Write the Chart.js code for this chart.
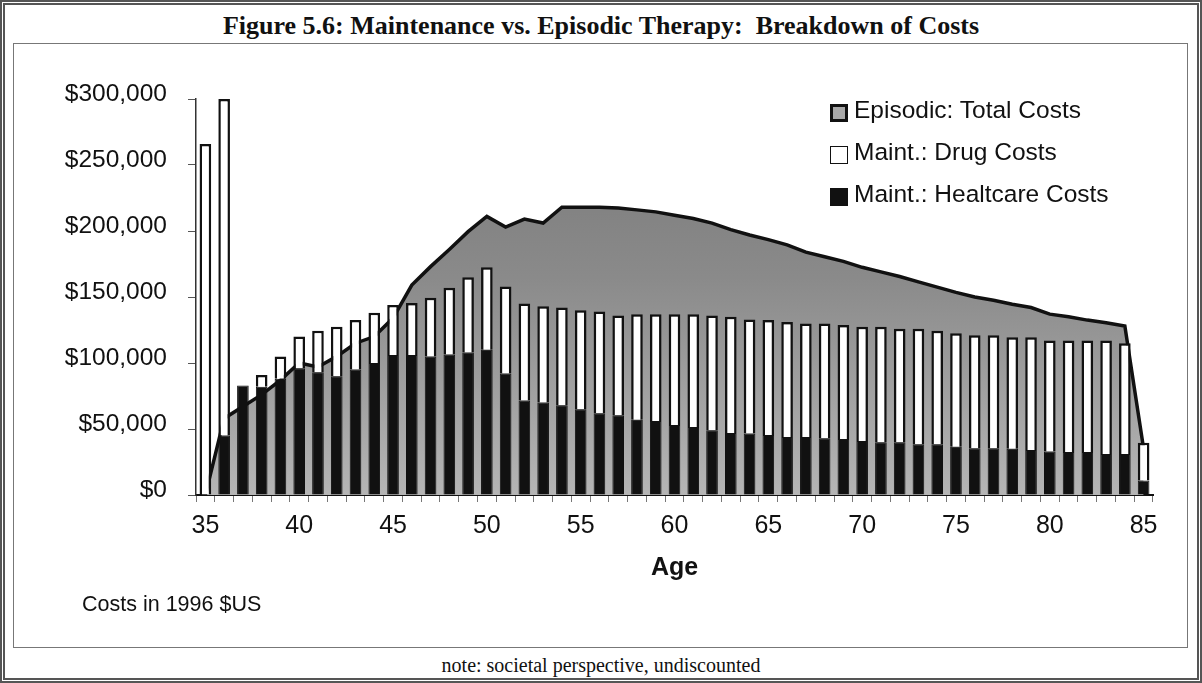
<!DOCTYPE html>
<html>
<head>
<meta charset="utf-8">
<title>Figure 5.6</title>
<script src="https://cdn.jsdelivr.net/npm/chart.js@4.4.0/dist/chart.umd.min.js"></script>
<style>
  html, body { margin: 0; padding: 0; background: #fff; }
  #page { position: relative; width: 1202px; height: 683px; overflow: hidden; background: #fff; }
  #outer { position: absolute; left: 0; top: 0; width: 1202px; height: 683px; box-sizing: border-box; border: 5px double #555; }
  #inner { position: absolute; left: 13px; top: 43px; width: 1175px; height: 605px; box-sizing: border-box; border: 1px solid #777; }
  #title { position: absolute; left: 0; width: 1202px; top: 11px; line-height: 32px; text-align: center;
           font: bold 26px 'Liberation Serif', 'Times New Roman', serif; color: #111; }
  #note { position: absolute; left: 0; width: 1202px; top: 654px; line-height: 26px; text-align: center;
          font: 20px 'Liberation Serif', 'Times New Roman', serif; color: #111; }
  #units { position: absolute; left: 82px; top: 592px; line-height: 26px;
           font: 21.5px 'Liberation Sans', Arial, sans-serif; color: #111; }
  #chartBox { position: absolute; left: 13px; top: 43px; }
  #legend { position: absolute; left: 830px; top: 89px; font: 24.5px 'Liberation Sans', Arial, sans-serif; color: #111; }
  .legend-row { height: 42px; display: flex; align-items: center; }
  .legend-box { width: 18px; height: 18px; box-sizing: border-box; margin-right: 6px; margin-top: 6px; }
  .box-episodic { background: #a8a8a8; border: 3.5px solid #111; }
  .box-drug { background: #fff; border: 1.5px solid #111; }
  .box-health { background: #111; border: 1px solid #111; }
</style>
</head>
<body>
<div id="page">
  <div id="outer"></div>
  <div id="inner"></div>
  <div id="title">Figure 5.6: Maintenance vs. Episodic Therapy:&nbsp; Breakdown of Costs</div>
  <div id="chartBox"><canvas id="costChart" width="1177" height="605"></canvas></div>
  <div id="legend"></div>
  <div id="units">Costs in 1996 $US</div>
  <div id="note">note: societal perspective, undiscounted</div>
</div>

<script>
// Ages on the category axis
const ages = [35, 36, 37, 38, 39, 40, 41, 42, 43, 44, 45, 46, 47, 48, 49, 50,
  51, 52, 53, 54, 55, 56, 57, 58, 59, 60, 61, 62, 63, 64, 65, 66, 67, 68, 69, 70,
  71, 72, 73, 74, 75, 76, 77, 78, 79, 80, 81, 82, 83, 84, 85];

// Values in thousands of 1996 $US
const healthcareK = [0, 45, 83, 82, 88, 96, 93, 90, 95, 100, 106, 106, 105, 106.5, 108, 110,
  92, 71.5, 70, 68, 65, 62, 60.5, 57, 56, 53, 51.5, 49, 47, 46.5, 45.5, 44, 44, 43, 42.5, 41,
  40, 40, 38.5, 38.5, 36.5, 35.5, 35.5, 35, 34, 33, 32.5, 32.5, 31, 31, 11];

const drugK = [266, 255, 0, 9, 17, 24, 31.5, 37.5, 37.5, 38, 38, 39.5, 44.5, 50.5, 57, 62.5,
  66, 73.5, 73, 74, 75, 77, 75.5, 80, 81, 84, 85.5, 87, 88, 86.5, 87, 87, 86, 87, 86.3, 86.5,
  87.5, 86, 87.5, 86, 86, 85.5, 85.5, 84.5, 85.5, 84, 84.5, 84.5, 86, 84, 28.6];

const episodicK = [0, 58, 67, 76, 87, 100, 97, 105, 115, 120, 134, 159, 173, 186, 199.5, 211,
  203, 209, 206, 218, 218, 218, 217.5, 216, 214.5, 212, 209.5, 206, 201, 197, 193.5, 189.5,
  184, 180.5, 177, 172.5, 169, 165.5, 161.5, 157.5, 153.5, 150, 147.5, 144.5, 142, 137, 135,
  132.5, 130.5, 128, 35];

// Y axis ticks
const yTicks = [0, 50000, 100000, 150000, 200000, 250000, 300000];

const seriesNames = ['Maint.: Healtcare Costs', 'Maint.: Drug Costs', 'Episodic: Total Costs'];
const legendOrder = [2, 1, 0];
const legendBoxClass = ['box-health', 'box-drug', 'box-episodic'];

const toDollars = arr => arr.map(v => v * 1000);
const fontFamily = "'Liberation Sans', Arial, sans-serif";

function areaFill(context) {
  const chart = context.chart;
  const area = chart.chartArea;
  if (!area) return '#999';
  const g = chart.ctx.createLinearGradient(0, area.top, 0, area.bottom);
  g.addColorStop(0, '#777');
  g.addColorStop(0.45, '#8a8a8a');
  g.addColorStop(1, '#b5b5b5');
  return g;
}

const costChart = new Chart(document.getElementById('costChart'), {
  type: 'bar',
  data: {
    labels: ages,
    datasets: [
      {
        label: seriesNames[0],
        data: toDollars(healthcareK),
        stack: 'maint',
        backgroundColor: '#111',
        borderColor: '#111',
        borderWidth: 1,
        barPercentage: 0.62,
        categoryPercentage: 1,
        order: 0
      },
      {
        label: seriesNames[1],
        data: toDollars(drugK),
        stack: 'maint',
        backgroundColor: '#fff',
        borderColor: '#111',
        borderWidth: 2.5,
        barPercentage: 0.62,
        categoryPercentage: 1,
        order: 0
      },
      {
        type: 'line',
        label: seriesNames[2],
        data: toDollars(episodicK),
        stack: 'epi',
        fill: 'origin',
        backgroundColor: areaFill,
        borderColor: '#111',
        borderWidth: 3.5,
        pointRadius: 0,
        tension: 0,
        order: 1
      }
    ]
  },
  options: {
    responsive: false,
    animation: false,
    devicePixelRatio: 1,
    layout: { padding: { left: 0, right: 37, top: 56, bottom: 53 } },
    plugins: {
      legend: { display: false },
      tooltip: { enabled: false }
    },
    scales: {
      x: {
        stacked: true,
        grid: { display: true, drawOnChartArea: false, tickLength: 7, color: '#777', offset: true },
        border: { display: true, color: '#111', width: 2 },
        ticks: {
          autoSkip: false,
          maxRotation: 0,
          padding: 9,
          color: '#111',
          font: { family: fontFamily, size: 25 },
          callback: function (value) {
            const age = this.getLabelForValue(value);
            return age % 5 === 0 ? String(age) : '';
          }
        },
        title: {
          display: true,
          text: 'Age',
          color: '#111',
          font: { family: fontFamily, size: 25, weight: 'bold' },
          padding: { top: 0, bottom: 12 }
        },
        afterFit: scale => { scale.height = 100; }
      },
      y: {
        stacked: true,
        min: 0,
        max: 300000,
        afterBuildTicks: scale => { scale.ticks = yTicks.map(v => ({ value: v })); },
        grid: { display: true, drawOnChartArea: false, tickLength: 8, color: '#555' },
        border: { display: true, color: '#333', width: 1.5 },
        ticks: {
          padding: 21,
          labelOffset: -5,
          color: '#111',
          font: { family: fontFamily, size: 24.5 },
          callback: value => '$' + value.toLocaleString('en-US')
        },
        afterFit: scale => { scale.width = 183; }
      }
    }
  }
});

// HTML legend, top right inside the plot
function buildLegend(chart) {
  const box = document.getElementById('legend');
  box.innerHTML = legendOrder.map(i => `
    <div class="legend-row">
      <span class="legend-box ${legendBoxClass[i]}"></span>
      <span>${chart.data.datasets[i].label}</span>
    </div>
  `).join('');
}

buildLegend(costChart);
</script>
</body>
</html>
